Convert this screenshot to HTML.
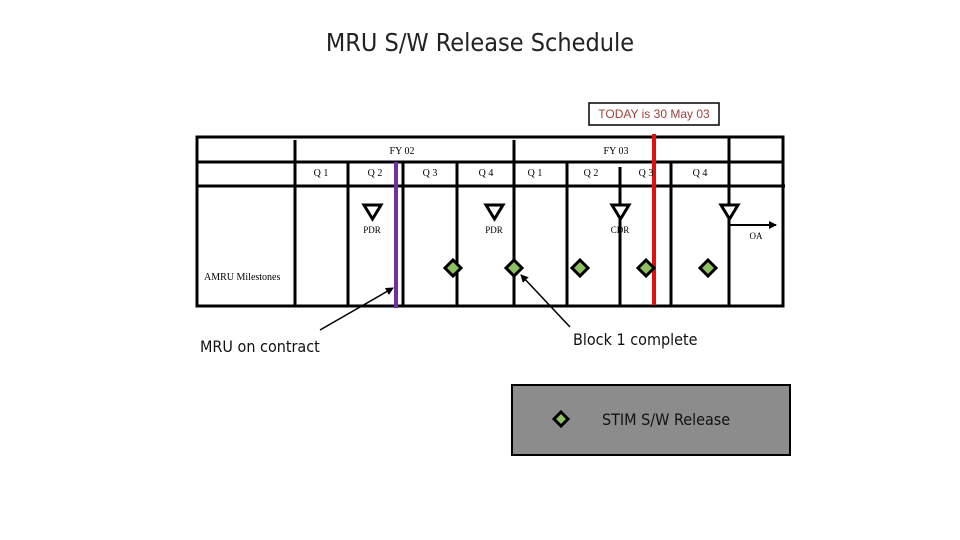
<!DOCTYPE html>
<html><head><meta charset="utf-8"><style>
html,body{margin:0;padding:0;background:#fff;}
svg{display:block;}
.t{font-family:"Liberation Serif",serif;font-size:10px;fill:#000;}
.c{font-family:'DejaVu Sans Condensed','Liberation Sans',sans-serif;}
</style></head><body>
<svg width="960" height="540" viewBox="0 0 960 540" xmlns="http://www.w3.org/2000/svg">
<defs><marker id="ah" markerWidth="8" markerHeight="8" refX="7" refY="4" orient="auto" markerUnits="userSpaceOnUse"><path d="M0,0 L8,4 L0,8 z" fill="#000"/></marker></defs>
<text x="480" y="51" text-anchor="middle" class="c" font-size="25" fill="#222">MRU S/W Release Schedule</text>
<rect x="589" y="103" width="130" height="22" fill="#fff" stroke="#000" stroke-width="1.5"/>
<text x="654" y="118" text-anchor="middle" font-family="Liberation Sans,sans-serif" font-size="12" fill="#a0403a">TODAY is 30 May 03</text>
<g stroke="#000" stroke-width="3" fill="none">
<rect x="197" y="137" width="586" height="169"/>
<line x1="197" y1="162" x2="783" y2="162"/>
<line x1="197" y1="186" x2="785" y2="186"/>
<line x1="295" y1="140" x2="295" y2="306"/>
<line x1="514" y1="140" x2="514" y2="306"/>
<line x1="729" y1="137" x2="729" y2="306"/>
<line x1="348" y1="162" x2="348" y2="306"/>
<line x1="403" y1="162" x2="403" y2="306"/>
<line x1="457" y1="162" x2="457" y2="306"/>
<line x1="567" y1="162" x2="567" y2="306"/>
<line x1="671" y1="163" x2="671" y2="306"/>
<line x1="620" y1="167" x2="620" y2="306"/>
</g>
<line x1="396" y1="162" x2="396" y2="308" stroke="#7030a0" stroke-width="4"/>
<line x1="654" y1="134" x2="654" y2="305" stroke="#e01010" stroke-width="4"/>
<text x="402" y="154" text-anchor="middle" class="t">FY 02</text>
<text x="616" y="154" text-anchor="middle" class="t">FY 03</text>
<g class="t" text-anchor="middle">
<text x="321" y="176">Q 1</text><text x="375" y="176">Q 2</text><text x="430" y="176">Q 3</text><text x="486" y="176">Q 4</text>
<text x="535" y="176">Q 1</text><text x="591" y="176">Q 2</text><text x="646" y="176">Q 3</text><text x="700" y="176">Q 4</text>
<text x="372" y="233" font-size="9">PDR</text><text x="494" y="233" font-size="9">PDR</text><text x="620" y="233" font-size="9">CDR</text><text x="756" y="239" font-size="9">OA</text>
</g>
<text x="204" y="280" class="t">AMRU Milestones</text>
<g fill="#fff" stroke="#000" stroke-width="3">
<path d="M364,205 L381,205 L372.5,219 z"/><path d="M486,205 L503,205 L494.5,219 z"/><path d="M612,205 L629,205 L620.5,219 z"/><path d="M721,205 L738,205 L729.5,219 z"/>
</g>
<line x1="729" y1="225" x2="776" y2="225" stroke="#000" stroke-width="2" marker-end="url(#ah)"/>
<g fill="#8dc060" stroke="#000" stroke-width="3">
<path d="M453,260 L461,268 L453,276 L445,268 z"/><path d="M514,260 L522,268 L514,276 L506,268 z"/><path d="M580,260 L588,268 L580,276 L572,268 z"/><path d="M646,260 L654,268 L646,276 L638,268 z"/><path d="M708,260 L716,268 L708,276 L700,268 z"/>
</g>
<line x1="320" y1="330" x2="393" y2="288" stroke="#000" stroke-width="1.5" marker-end="url(#ah)"/>
<line x1="570" y1="327" x2="521" y2="275" stroke="#000" stroke-width="1.5" marker-end="url(#ah)"/>
<text x="200" y="352" class="c" font-size="16" fill="#111">MRU on contract</text>
<text x="573" y="345" class="c" font-size="16" fill="#111">Block 1 complete</text>
<rect x="512" y="385" width="278" height="70" fill="#8c8c8c" stroke="#000" stroke-width="2"/>
<path d="M561,412 L568,419 L561,426 L554,419 z" fill="#8dc060" stroke="#000" stroke-width="3"/>
<text x="602" y="425" class="c" font-size="16" fill="#111">STIM S/W Release</text>
</svg>
</body></html>
